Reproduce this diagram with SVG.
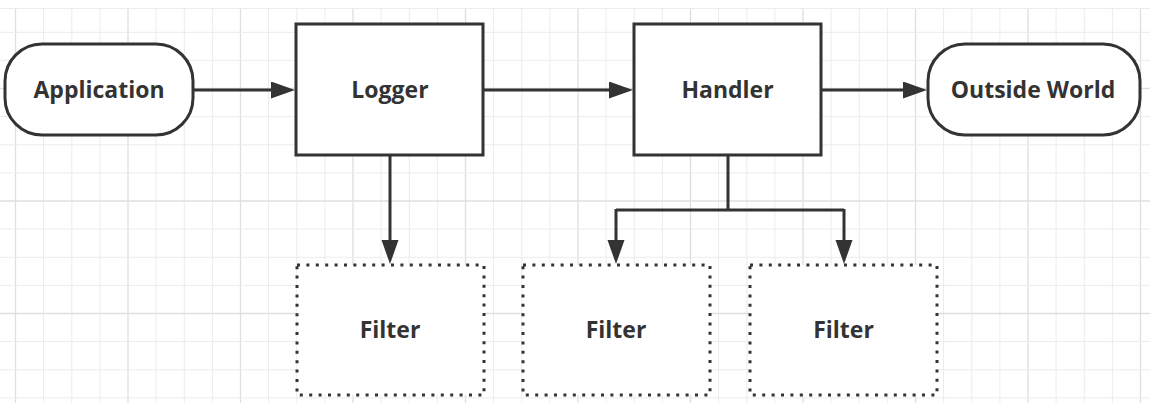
<svg xmlns="http://www.w3.org/2000/svg" width="1160" height="419" viewBox="0 0 1160 419">
<defs>
<style>
.minor{stroke:#ececec;stroke-width:1;fill:none}
.major{stroke:#dfdfdf;stroke-width:1.3;fill:none}
.solid{fill:#fff;stroke:#333;stroke-width:3}
.dot{fill:#fff;stroke:#333;stroke-width:3;stroke-dasharray:3 6.4}
.lbl{font-family:"Open Sans","Noto Sans","Liberation Sans",sans-serif;font-weight:700;font-size:23px;fill:#333;text-anchor:middle}
.conn{fill:none;stroke:#333;stroke-width:3}
</style>
<marker id="arr" markerUnits="userSpaceOnUse" markerWidth="26" markerHeight="18" refX="12" refY="8.5" orient="auto">
<path d="M0,0 L24,8.5 L0,17 Z" fill="#333"/>
</marker>
<clipPath id="gc"><rect x="0" y="8" width="1150" height="395"/></clipPath>
</defs>
<rect width="1160" height="419" fill="#fff"/>
<g id="grid" clip-path="url(#gc)">
<path class="minor" d="M43.6,0V419M71.8,0V419M99.9,0V419M156.1,0V419M184.3,0V419M212.4,0V419M268.6,0V419M296.8,0V419M324.9,0V419M381.1,0V419M409.3,0V419M437.4,0V419M493.6,0V419M521.8,0V419M549.9,0V419M606.1,0V419M634.3,0V419M662.4,0V419M718.6,0V419M746.8,0V419M774.9,0V419M831.1,0V419M859.3,0V419M887.4,0V419M943.6,0V419M971.8,0V419M999.9,0V419M1056.1,0V419M1084.3,0V419M1112.4,0V419"/>
<path class="major" d="M15.5,0V419M128,0V419M240.5,0V419M353,0V419M465.5,0V419M578,0V419M690.5,0V419M803,0V419M915.5,0V419M1028,0V419M1140.5,0V419"/>
<path class="minor" d="M0,8.5H1160M0,32.3H1160M0,60.4H1160M0,116.6H1160M0,144.8H1160M0,172.9H1160M0,229.1H1160M0,257.3H1160M0,285.4H1160M0,341.6H1160M0,369.8H1160M0,397.9H1160"/>
<path class="major" d="M0,88.5H1160M0,201H1160M0,313.5H1160"/>
</g>
<g id="connectors">
<path class="conn" d="M193,90H283" marker-end="url(#arr)"/>
<path class="conn" d="M483,90H621" marker-end="url(#arr)"/>
<path class="conn" d="M821,90H915" marker-end="url(#arr)"/>
<path class="conn" d="M390,155V252" marker-end="url(#arr)"/>
<path class="conn" d="M728,155V210"/>
<path class="conn" d="M616,210H844"/>
<path class="conn" d="M616,209V252" marker-end="url(#arr)"/>
<path class="conn" d="M844,209V252" marker-end="url(#arr)"/>
</g>
<g id="application">
<rect class="solid" x="5" y="44" width="188" height="91" rx="37" ry="37"/>
<text class="lbl" x="99" y="98">Application</text>
</g>
<g id="logger">
<rect class="solid" x="296" y="24" width="187" height="131"/>
<text class="lbl" x="390" y="98">Logger</text>
</g>
<g id="handler">
<rect class="solid" x="634" y="24" width="187" height="131"/>
<text class="lbl" x="727.5" y="98">Handler</text>
</g>
<g id="outside-world">
<rect class="solid" x="928" y="44" width="212" height="91" rx="37" ry="37"/>
<text class="lbl" x="1033" y="98">Outside World</text>
</g>
<g id="filter1">
<rect class="dot" x="297" y="265" width="187" height="130"/>
<text class="lbl" x="390" y="337.5">Filter</text>
</g>
<g id="filter2">
<rect class="dot" x="523" y="265" width="187" height="130"/>
<text class="lbl" x="616" y="337.5">Filter</text>
</g>
<g id="filter3">
<rect class="dot" x="750" y="265" width="187" height="130"/>
<text class="lbl" x="843.5" y="337.5">Filter</text>
</g>
</svg>
